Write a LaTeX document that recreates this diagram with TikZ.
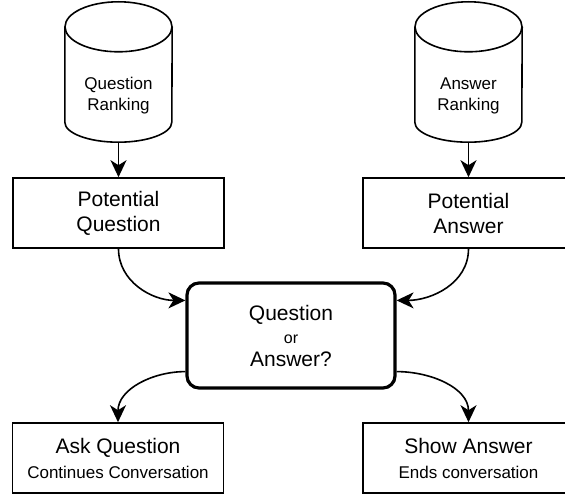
\documentclass[tikz,border=0pt]{standalone}
\usepackage{fontspec}
\setmainfont{Liberation Sans}
\usetikzlibrary{positioning,arrows.meta,calc}

% outline of a ranking store round an empty node
\newcommand{\storeshape}[1]{%
  \draw[shell] ($(#1.north west)+(0,-25)$) -- ($(#1.south west)+(0,20)$)
    arc[start angle=180,end angle=360,x radius=53.5pt,y radius=20pt]
    -- ($(#1.north east)+(0,-25)$);
  \draw[shell] ($(#1.north)+(0,-25)$) ellipse[x radius=53.5pt,y radius=25pt];
}

\begin{document}
\begin{tikzpicture}[x=1pt,y=1pt,
  every node/.style={align=center},
  store/.style={rectangle,minimum width=107pt,minimum height=140pt,inner sep=0pt},
  storetext/.style={font=\fontsize{17}{21}\selectfont},
  box/.style={rectangle,draw,line width=1.6pt,minimum width=211pt,
              minimum height=70pt,inner sep=0pt,font=\fontsize{21}{25}\selectfont},
  decide/.style={rectangle,draw,line width=3.2pt,rounded corners=12pt,
              minimum width=208pt,minimum height=105pt,inner sep=0pt,
              font=\fontsize{21}{23}\selectfont},
  shell/.style={line width=1.6pt},
  arr/.style={-{Stealth[length=17pt,width=16pt,inset=5pt]},line width=1.6pt},
]
\useasboundingbox (0,0) rectangle (565,-494);

\node[box] (pq) at (118.5,-213) {Potential\\Question};
\node[box] (pa) at (468.5,-213) {Potential\\Answer};
\node[decide] (qa) at (291,-335.5) {Question\\{\fontsize{16}{23}\selectfont or}\\Answer?};
\node[box] (ask) at (118,-458) {Ask Question\\{\fontsize{17}{26}\selectfont Continues Conversation}};
\node[box] (show) at (468.5,-458) {Show Answer\\{\fontsize{17}{26}\selectfont Ends conversation}};

\node[store,above=35pt of pq] (qr) {};
\node[store,above=35pt of pa] (ar) {};
\storeshape{qr}
\storeshape{ar}
\node[storetext] (qrtext) at ($(qr.center)+(0,-23.5)$) {Question\\Ranking};
\node[storetext] (artext) at ($(ar.center)+(0,-23.5)$) {Answer\\Ranking};

\draw[arr] (qr) -- (pq);
\draw[arr] (ar) -- (pa);
\draw[arr] (pq.south) to[out=-90,in=180] ($(qa.north west)+(0,-19)$);
\draw[arr] (pa.south) to[out=-90,in=0] ($(qa.north east)+(0,-19)$);
\draw[arr] ($(qa.south west)+(0,18)$) to[out=180,in=90] (ask.north);
\draw[arr] ($(qa.south east)+(0,18)$) to[out=0,in=90] (show.north);
\end{tikzpicture}
\end{document}
